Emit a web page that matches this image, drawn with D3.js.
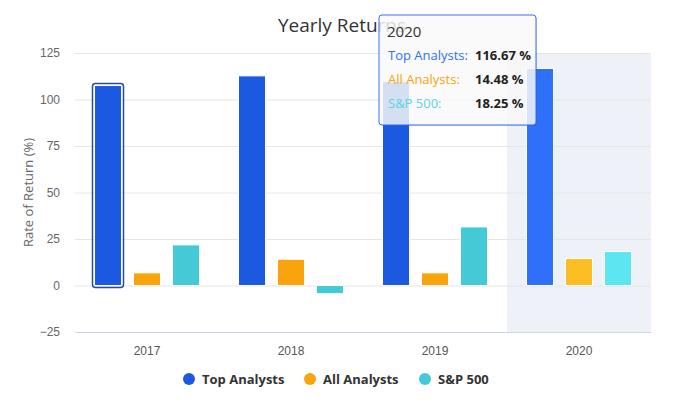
<!DOCTYPE html>
<html>
<head>
<meta charset="utf-8">
<script src="https://cdn.jsdelivr.net/npm/d3@7"></script>
<style>
  html, body { margin: 0; padding: 0; background: #fff; }
  svg { display: block; font-family: "Open Sans", sans-serif; }
</style>
</head>
<body>
<div id="chart"></div>
<script>
// Chart data
const years = ['2017', '2018', '2019', '2020'];
const seriesNames = ['Top Analysts', 'All Analysts', 'S&P 500'];
const topAnalysts = [107.5, 112.7, 109.5, 116.67];
const allAnalysts = [6.8, 14.1, 6.8, 14.48];
const sp500 = [21.83, -4.38, 31.49, 18.25];
const yTicks = [-25, 0, 25, 50, 75, 100, 125];
const hoveredYear = '2020';
const selectedYear = '2017';

const colors = ['#1b59e0', '#f9a40c', '#44c9d6'];
const hoverColors = ['#2f70fb', '#fbbf24', '#5be6f1'];

const width = 684, height = 412;
const margin = { top: 53, right: 33, bottom: 80, left: 75 };

const svg = d3.select('#chart')
    .append('svg')
    .attr('width', width)
    .attr('height', height);

const x0 = d3.scaleBand()
    .domain(years)
    .range([margin.left, width - margin.right]);

const x1 = d3.scaleBand()
    .domain(seriesNames)
    .range([0, x0.bandwidth()])
    .paddingInner(0.3077)
    .paddingOuter(0.5);

const y = d3.scaleLinear()
    .domain([-25, 125])
    .range([height - margin.bottom, margin.top]);

// Hover band
svg.append('rect')
    .attr('x', x0(hoveredYear))
    .attr('y', y(125))
    .attr('width', x0.bandwidth())
    .attr('height', y(-25) - y(125))
    .attr('fill', '#eef1f7');

// Grid
const yAxis = d3.axisLeft(y)
    .tickValues(yTicks)
    .tickSize(-(width - margin.left - margin.right))
    .tickPadding(15);

const gy = svg.append('g')
    .attr('transform', `translate(${margin.left},0)`)
    .call(yAxis);
gy.select('.domain').remove();
gy.selectAll('.tick line').attr('stroke', '#e6e6e6');
gy.selectAll('.tick text')
    .attr('fill', '#666')
    .style('font-size', '12px');

// x axis
const xAxis = d3.axisBottom(x0).tickSize(0).tickPadding(14);
const gx = svg.append('g')
    .attr('transform', `translate(0,${y(-25)})`)
    .call(xAxis);
gx.select('.domain').attr('stroke', '#ccd6eb');
gx.selectAll('.tick text')
    .attr('fill', '#555')
    .style('font-size', '12px');

// Bars
const seriesData = [topAnalysts, allAnalysts, sp500];
const groups = svg.append('g').selectAll('g')
    .data(years)
    .join('g')
    .attr('transform', d => `translate(${x0(d)},0)`);

groups.selectAll('rect')
    .data((yr, i) => seriesNames.map((s, k) => ({ year: yr, series: s, k: k, value: seriesData[k][i] })))
    .join('rect')
    .attr('x', d => x1(d.series))
    .attr('width', x1.bandwidth())
    .attr('y', d => y(Math.max(0, d.value)))
    .attr('height', d => Math.abs(y(d.value) - y(0)))
    .attr('fill', d => d.year === hoveredYear ? hoverColors[d.k] : colors[d.k])
    .attr('stroke', '#fff')
    .attr('stroke-width', 1);

// Selected bar outline (2017 Top Analysts)
const si = years.indexOf(selectedYear);
svg.append('rect')
    .attr('x', x0(selectedYear) + x1(seriesNames[0]) - 2)
    .attr('y', y(topAnalysts[si]) - 2)
    .attr('width', x1.bandwidth() + 4)
    .attr('height', y(0) - y(topAnalysts[si]) + 4)
    .attr('rx', 3)
    .attr('fill', 'none')
    .attr('stroke', '#2a4a9e')
    .attr('stroke-width', 1.5);

// Title
svg.append('text')
    .attr('x', width / 2)
    .attr('y', 32)
    .attr('text-anchor', 'middle')
    .attr('fill', '#333')
    .style('font-size', '19px')
    .text('Yearly Returns');

// Y axis title
svg.append('text')
    .attr('transform', `translate(33,${(y(-25) + y(125)) / 2 + 0}) rotate(-90)`)
    .attr('text-anchor', 'middle')
    .attr('fill', '#666')
    .style('font-size', '13px')
    .text('Rate of Return (%)');

// Legend
const legendX = [189, 310, 425];
const legend = svg.append('g').selectAll('g')
    .data(seriesNames)
    .join('g')
    .attr('transform', (d, i) => `translate(${legendX[i]},379)`);
legend.append('circle')
    .attr('r', 6)
    .attr('fill', (d, i) => colors[i]);
legend.append('text')
    .attr('x', 13)
    .attr('dy', '0.35em')
    .attr('fill', '#333')
    .style('font-size', '13px')
    .style('font-weight', 'bold')
    .text(d => d);

// Tooltip
const hi = years.indexOf(hoveredYear);
const tip = svg.append('g').attr('transform', 'translate(379,15)');
tip.append('rect')
    .attr('x', 1).attr('y', 1)
    .attr('width', 157).attr('height', 110)
    .attr('rx', 3)
    .attr('fill', 'rgba(0,0,0,0.12)');
tip.append('rect')
    .attr('width', 157).attr('height', 110)
    .attr('rx', 3)
    .attr('fill', 'rgba(255,255,255,0.82)')
    .attr('stroke', '#2f70fb')
    .attr('stroke-width', 1);
tip.append('text')
    .attr('x', 8).attr('y', 22)
    .attr('fill', '#333')
    .style('font-size', '15px')
    .text(hoveredYear);
const fmt = d3.format('.2f');
const rows = tip.selectAll('g.row')
    .data(seriesNames)
    .join('g')
    .attr('class', 'row')
    .attr('transform', (d, i) => `translate(0,${45 + i * 24})`);
rows.append('text')
    .attr('x', 9)
    .attr('fill', (d, i) => i === 0 ? '#2f70fb' : i === 1 ? '#f9a40c' : '#5ad3e2')
    .style('font-size', '13px')
    .text(d => d + ':');
rows.append('text')
    .attr('x', 96)
    .attr('fill', '#222')
    .style('font-size', '13px')
    .style('font-weight', 'bold')
    .text((d, i) => fmt(seriesData[i][hi]) + ' %');
</script>
</body>
</html>
